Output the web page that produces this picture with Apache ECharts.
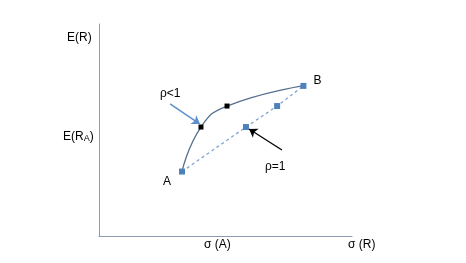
<!DOCTYPE html>
<html>
<head>
<meta charset="utf-8">
<script src="https://cdn.jsdelivr.net/npm/echarts@6/dist/echarts.min.js"></script>
<style>html,body{margin:0;padding:0;background:#fff}#c{width:466px;height:263px}</style>
</head>
<body>
<div id="c"></div>
<script>
// Portfolio risk (sigma) and expected return
const sigmaLinear = [32.8, 58.1, 70.4, 80.8];   // rho = 1 (straight dashed line)
const returnLinear = [30.4, 51.4, 61.3, 70.8];
const sigmaCurve = [32.8, 40.3, 50.6, 80.8];    // rho < 1 (curved frontier)
const returnCurve = [30.4, 51.4, 61.3, 70.8];
const arrowLess = [[28.1, 62.3], [39.9, 52.8]]; // arrow from "ρ<1" label
const arrowEq = [[72.3, 40.6], [59.3, 50.5]];   // arrow from "ρ=1" label
const pointNames = ['A', '', '', 'B'];

const chart = echarts.init(document.getElementById('c'));
const axisColor = '#8a9bb3';
const font = 'Liberation Sans, Arial, sans-serif';

const linearData = sigmaLinear.map((x, i) => ({
  value: [x, returnLinear[i]],
  label: pointNames[i] === 'A' ? {show: true, formatter: 'A', position: [-16, 7]} :
         pointNames[i] === 'B' ? {show: true, formatter: 'B', position: [13, -8]} : {show: false}
}));
const curveData = sigmaCurve.map((x, i) => ({
  value: [x, returnCurve[i]],
  symbol: (i === 0 || i === sigmaCurve.length - 1) ? 'none' : 'rect'
}));

chart.setOption({
  animation: false,
  grid: {left: 99, top: 24, right: 114, bottom: 27},
  xAxis: {
    type: 'value', min: 0, max: 100,
    axisLine: {show: true, lineStyle: {color: axisColor, width: 1}},
    axisTick: {show: false}, axisLabel: {show: false}, splitLine: {show: false}
  },
  yAxis: {
    type: 'value', min: 0, max: 100,
    axisLine: {show: true, lineStyle: {color: axisColor, width: 1}},
    axisTick: {show: false}, axisLabel: {show: false}, splitLine: {show: false}
  },
  series: [
    {
      type: 'line', data: curveData, smooth: 0.5,
      symbolSize: 5, itemStyle: {color: '#000'},
      lineStyle: {color: '#56708f', width: 1.3},
      z: 2,
      markLine: {
        silent: true, symbol: ['none', 'arrow'], symbolSize: 8, label: {show: false},
        lineStyle: {type: 'solid'},
        data: [
          [{coord: arrowLess[0], lineStyle: {color: '#5b8fce', width: 1.5, type: 'solid'}, itemStyle: {color: '#5b8fce'}},
           {coord: arrowLess[1]}],
          [{coord: arrowEq[0], lineStyle: {color: '#000', width: 1.3, type: 'solid'}, itemStyle: {color: '#000'}},
           {coord: arrowEq[1]}]
        ]
      }
    },
    {
      type: 'line', data: linearData,
      symbol: 'rect', symbolSize: 6,
      itemStyle: {color: '#4f81bd'},
      lineStyle: {color: '#7fa4d0', width: 1.3, type: [3, 3]},
      label: {color: '#000', fontFamily: font, fontSize: 12},
      z: 3
    }
  ],
  graphic: [
    {type: 'text', left: 67, top: 32, style: {text: 'E(R)', font: '12px ' + font, fill: '#000'}},
    {type: 'text', left: 63, top: 131, style: {
      text: '{a|E(R}{s|A}{a|)}',
      rich: {a: {font: '12px ' + font, fill: '#000'}, s: {font: '9px ' + font, fill: '#000', padding: [3, 0, 0, 0]}}
    }},
    {type: 'text', left: 160, top: 88, style: {text: 'ρ<1', font: '12px ' + font, fill: '#000'}},
    {type: 'text', left: 265, top: 161, style: {text: 'ρ=1', font: '12px ' + font, fill: '#000'}},
    {type: 'text', left: 204, top: 239, style: {text: 'σ (A)', font: '12px ' + font, fill: '#000'}},
    {type: 'text', left: 348, top: 239, style: {text: 'σ (R)', font: '12px ' + font, fill: '#000'}}
  ]
});
</script>
</body>
</html>
